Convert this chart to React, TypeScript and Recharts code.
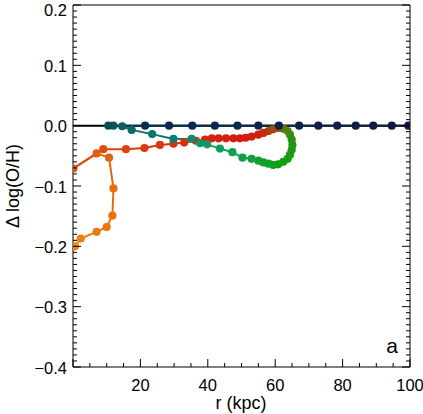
import { ScatterChart, Scatter, XAxis, YAxis, ReferenceLine, Cell } from 'recharts'

// trajectory, in time order (orange -> red -> green -> teal -> navy)
const rKpc = [
  0.6, 2.3, 7.0, 10.0, 11.7, 12.0, 10.7, 7.0, 0.1, 9.0,
  15.7, 21.2, 25.8, 29.8, 33.0, 36.5, 39.2, 41.2, 43.2, 45.4,
  47.6, 49.5, 51.2, 53.0, 55.0, 56.5, 58.0, 59.4, 60.9, 62.4,
  63.7, 64.4, 64.9, 65.1, 64.9, 64.4, 63.7, 62.4, 60.9, 59.4,
  58.0, 56.5, 55.0, 53.0, 50.3, 47.3, 43.6, 39.8, 37.7, 35.2,
  29.8, 23.5, 17.4, 14.6, 12.0, 10.5, 21.4, 28.5, 35.4, 42.1,
  48.8, 55.0, 61.1, 67.1, 72.8, 78.4, 83.9, 89.1, 94.6, 99.5,
]
const dLogOH = [
  -0.2, -0.187, -0.176, -0.168, -0.149, -0.104, -0.053, -0.046, -0.071, -0.039,
  -0.039, -0.037, -0.032, -0.03, -0.028, -0.025, -0.023, -0.021, -0.021, -0.021,
  -0.021, -0.021, -0.02, -0.018, -0.015, -0.012, -0.009, -0.006, -0.004, -0.005,
  -0.009, -0.015, -0.023, -0.032, -0.04, -0.048, -0.055, -0.06, -0.064, -0.065,
  -0.063, -0.061, -0.058, -0.055, -0.053, -0.044, -0.038, -0.031, -0.029, -0.022,
  -0.022, -0.014, -0.007, -0.001, 0.0, 0.0, 0.0, 0.0, 0.0, 0.0,
  0.0, 0.0, 0.0, 0.0, 0.0, 0.0, 0.0, 0.0, 0.0, 0.0,
]

const xMajor = [0, 20, 40, 60, 80, 100]
const yMajor = [-0.4, -0.3, -0.2, -0.1, 0.0, 0.1, 0.2]
const xTicks = Array.from({ length: 21 }, (_, i) => i * 5)
const yTicks = Array.from({ length: 61 }, (_, i) => Math.round((-0.4 + i * 0.01) * 1000) / 1000)

// colour along the track: [point index, colour]
const colorStops: [number, string][] = [
  [0, '#e9860f'], [5, '#e56e0e'], [8, '#e0560e'], [11, '#db3c0e'], [16, '#d6260e'],
  [22, '#d21a0e'], [25, '#c8280e'], [27, '#a4480e'], [28, '#8c580e'], [30, '#508010'],
  [32, '#22960e'], [38, '#10a018'], [42, '#10a030'], [45, '#10a050'], [48, '#109868'],
  [49, '#108a70'], [52, '#0e6a68'], [55, '#0a4a5a'], [56, '#0a2c52'], [69, '#0c1a40'],
]

function mix(a: string, b: string, t: number) {
  const pa = [1, 3, 5].map((k) => parseInt(a.slice(k, k + 2), 16))
  const pb = [1, 3, 5].map((k) => parseInt(b.slice(k, k + 2), 16))
  return 'rgb(' + pa.map((v, k) => Math.round(v + (pb[k] - v) * t)).join(',') + ')'
}

const pointColors = rKpc.map((_, i) => {
  for (let s = 0; s < colorStops.length - 1; s++) {
    const [i0, c0] = colorStops[s]
    const [i1, c1] = colorStops[s + 1]
    if (i >= i0 && i <= i1) return mix(c0, c1, (i - i0) / (i1 - i0))
  }
  return colorStops[colorStops.length - 1][1]
})

const track = rKpc.map((r, i) => ({ r, d: dLogOH[i] }))

const FONT = '"Liberation Sans", Arial, sans-serif'
const TICK_FS = 16.5

const fmtY = (v: number) => v.toFixed(1).replace('-', '\u2212')
const isMajor = (v: number, list: number[]) => list.some((m) => Math.abs(m - v) < 1e-6)

const BottomTick = ({ x, y, payload }: any) => {
  const major = isMajor(payload.value, xMajor)
  return (
    <g>
      <line x1={x} x2={x} y1={y} y2={y - (major ? 8 : 4)} stroke="#000" />
      {major && payload.value !== 0 && (
        <text x={x} y={y + 24} textAnchor="middle" fontSize={TICK_FS} fill="#000" fontFamily={FONT}>
          {payload.value}
        </text>
      )}
    </g>
  )
}

const TopTick = ({ x, y, payload }: any) => {
  const major = isMajor(payload.value, xMajor)
  return <line x1={x} x2={x} y1={y} y2={y + (major ? 8 : 4)} stroke="#000" />
}

const LeftTick = ({ x, y, payload }: any) => {
  const major = isMajor(payload.value, yMajor)
  return (
    <g>
      <line x1={x} x2={x + (major ? 8 : 4)} y1={y} y2={y} stroke="#000" />
      {major && (
        <text x={x - 6} y={Math.max(y + 6.5, 15.5)} textAnchor="end" fontSize={TICK_FS} fill="#000" fontFamily={FONT}>
          {fmtY(payload.value)}
        </text>
      )}
    </g>
  )
}

const RightTick = ({ x, y, payload }: any) => {
  const major = isMajor(payload.value, yMajor)
  return <line x1={x} x2={x - (major ? 8 : 4)} y1={y} y2={y} stroke="#000" />
}

const renderTrack = (props: any) => {
  const pts = props.points || []
  return (
    <g>
      {pts.slice(1).map((p: any, i: number) => (
        <line
          key={i}
          x1={pts[i].x}
          y1={pts[i].y}
          x2={p.x}
          y2={p.y}
          stroke={pointColors[i + 1]}
          strokeWidth={2}
        />
      ))}
    </g>
  )
}

export default function App() {
  return (
    <div style={{ position: 'absolute', left: 0, top: 0, width: 423, height: 414, background: '#fff', fontFamily: FONT }}>
      <ScatterChart width={423} height={414} margin={{ top: 4, right: 12, bottom: 0, left: 0 }}>
        <XAxis
          dataKey="r"
          type="number"
          domain={[0, 100]}
          ticks={xTicks}
          interval={0}
          height={47}
          tickSize={0}
          tickMargin={0}
          tickLine={false}
          tick={<BottomTick />}
          axisLine={{ stroke: '#000' }}
          allowDataOverflow
        />
        <XAxis
          xAxisId="top"
          orientation="top"
          type="number"
          domain={[0, 100]}
          ticks={xTicks}
          interval={0}
          height={1}
          tickSize={0}
          tickMargin={0}
          tickLine={false}
          tick={<TopTick />}
          axisLine={{ stroke: '#000' }}
          allowDataOverflow
        />
        <YAxis
          dataKey="d"
          type="number"
          domain={[-0.4, 0.2]}
          ticks={yTicks}
          interval={0}
          width={73}
          tickSize={0}
          tickMargin={0}
          tickLine={false}
          tick={<LeftTick />}
          axisLine={{ stroke: '#000' }}
          allowDataOverflow
        />
        <YAxis
          yAxisId="right"
          orientation="right"
          type="number"
          domain={[-0.4, 0.2]}
          ticks={yTicks}
          interval={0}
          width={1}
          tickSize={0}
          tickMargin={0}
          tickLine={false}
          tick={<RightTick />}
          axisLine={{ stroke: '#000' }}
          allowDataOverflow
        />
        <ReferenceLine y={0} stroke="#000" strokeWidth={2} />
        <Scatter
          data={track}
          line={renderTrack}
          lineType="joint"
          isAnimationActive={false}
          shape={(p: any) => <circle cx={p.cx} cy={p.cy} r={4.1} fill={p.fill} />}
        >
          {track.map((_, i) => (
            <Cell key={i} fill={pointColors[i]} />
          ))}
        </Scatter>
      </ScatterChart>
      <svg width={423} height={414} style={{ position: 'absolute', left: 0, top: 0, pointerEvents: 'none' }}>
        <text
          transform="translate(19, 186) rotate(-90)"
          textAnchor="middle"
          fontSize={18}
          fontFamily={FONT}
          fill="#000"
        >
          Δ log(O/H)
        </text>
        <text x={241} y={409} textAnchor="middle" fontSize={18} fontFamily={FONT} fill="#000">
          r (kpc)
        </text>
        <text x={392} y={353} textAnchor="middle" fontSize={21} fontFamily={FONT} fill="#000">
          a
        </text>
      </svg>
    </div>
  )
}
